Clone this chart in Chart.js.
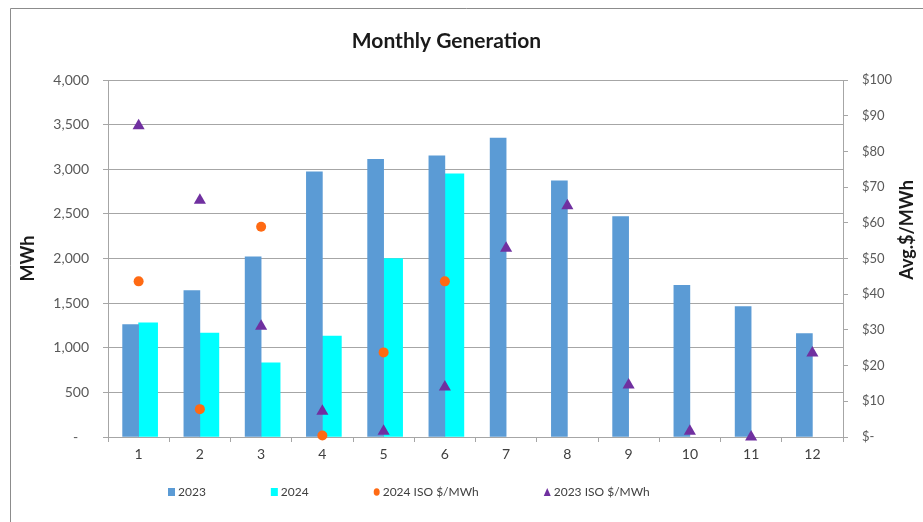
<!DOCTYPE html>
<html>
<head>
<meta charset="utf-8">
<title>Monthly Generation</title>
<script src="https://cdn.jsdelivr.net/npm/chart.js@4.4.1/dist/chart.umd.min.js"></script>
<style>
  html, body { margin: 0; padding: 0; background: #fff; }
  #wrap { position: relative; width: 923px; height: 522px; }
</style>
</head>
<body>
<div id="wrap"><canvas id="genChart"></canvas></div>
<script>
// months on the x axis
const months = ['1', '2', '3', '4', '5', '6', '7', '8', '9', '10', '11', '12'];

// MWh generated (left axis)
const gen2023 = [1260, 1640, 2020, 2970, 3110, 3150, 3350, 2870, 2470, 1700, 1460, 1160];
const gen2024 = [1280, 1165, 830, 1130, 2000, 2950, null, null, null, null, null, null];

// average ISO price, $/MWh (right axis)
const iso2024 = [43.6, 7.8, 58.9, 0.4, 23.7, 43.6, null, null, null, null, null, null];
const iso2023 = [87.2, 66.3, 31.0, 7.2, 1.6, 14.0, 52.9, 64.8, 14.6, 1.6, 0, 23.5];

const leftTicks = [0, 500, 1000, 1500, 2000, 2500, 3000, 3500, 4000];
const rightTicks = [0, 10, 20, 30, 40, 50, 60, 70, 80, 90, 100];

Chart.defaults.font.family = 'Lato, "Open Sans", sans-serif';
Chart.defaults.color = '#595959';

const gridGray = '#a6a6a6';

// outer frame of the chart area (cut off at right/bottom like the screenshot)
const framePlugin = {
    id: 'frame',
    beforeDraw(chart) {
        const ctx = chart.ctx;
        ctx.save();
        ctx.strokeStyle = '#8c8c8c';
        ctx.lineWidth = 1;
        ctx.beginPath();
        ctx.moveTo(10.5, chart.height);
        ctx.lineTo(10.5, 8.5);
        ctx.lineTo(chart.width, 8.5);
        ctx.stroke();
        ctx.restore();
    }
};

// right axis title reads bottom-to-top like the left one
const rightTitlePlugin = {
    id: 'rightTitle',
    afterDraw(chart) {
        const ctx = chart.ctx;
        const area = chart.chartArea;
        ctx.save();
        ctx.translate(area.right + 64, area.top + 150);
        ctx.rotate(-Math.PI / 2);
        ctx.font = 'bold 18px Lato, "Open Sans", sans-serif';
        ctx.fillStyle = '#1a1a1a';
        ctx.textAlign = 'center';
        ctx.textBaseline = 'middle';
        ctx.fillText('Avg.$/MWh', 0, 0);
        ctx.restore();
    }
};

// legend in one row with wide gaps, drawn from the datasets
const legendPlugin = {
    id: 'rowLegend',
    afterDraw(chart) {
        const ctx = chart.ctx;
        const y = 492;
        const gap = 65;
        let x = chart.chartArea.left + 60;
        ctx.save();
        ctx.font = '12px Lato, "Open Sans", sans-serif';
        ctx.textBaseline = 'middle';
        ctx.textAlign = 'left';
        chart.data.datasets.forEach(ds => {
            ctx.fillStyle = ds.backgroundColor;
            if (ds.legendShape === 'rect') {
                ctx.fillRect(x, y - 4, 7, 8);
                x += 7;
            } else if (ds.legendShape === 'circle') {
                ctx.beginPath();
                ctx.ellipse(x + 3, y, 3, 3.8, 0, 0, Math.PI * 2);
                ctx.fill();
                x += 6;
            } else {
                ctx.beginPath();
                ctx.moveTo(x + 3.5, y - 4);
                ctx.lineTo(x + 7, y + 4);
                ctx.lineTo(x, y + 4);
                ctx.closePath();
                ctx.fill();
                x += 7;
            }
            x += 3;
            ctx.fillStyle = '#404040';
            ctx.fillText(ds.label, x, y);
            x += ctx.measureText(ds.label).width + gap;
        });
        ctx.restore();
    }
};

const ctx = document.getElementById('genChart').getContext('2d');
const chart = new Chart(ctx, {
    data: {
        labels: months,
        datasets: [
            {
                type: 'bar',
                label: '2023',
                data: gen2023,
                backgroundColor: '#5b9bd5',
                barThickness: 16,
                yAxisID: 'y',
                legendShape: 'rect',
                order: 2
            },
            {
                type: 'bar',
                label: '2024',
                data: gen2024,
                backgroundColor: '#00ffff',
                barThickness: 19,
                yAxisID: 'y',
                legendShape: 'rect',
                order: 2
            },
            {
                type: 'line',
                label: '2024 ISO $/MWh',
                data: iso2024,
                showLine: false,
                pointStyle: 'circle',
                pointRadius: 5,
                pointBorderWidth: 0,
                backgroundColor: '#ff6a13',
                pointBackgroundColor: '#ff6a13',
                yAxisID: 'y2',
                clip: false,
                legendShape: 'circle',
                order: 1
            },
            {
                type: 'line',
                label: '2023 ISO $/MWh',
                data: iso2023,
                showLine: false,
                pointStyle: 'triangle',
                pointRadius: 7,
                pointBorderWidth: 0,
                backgroundColor: '#7030a0',
                pointBackgroundColor: '#7030a0',
                yAxisID: 'y2',
                clip: false,
                legendShape: 'triangle',
                order: 0
            }
        ]
    },
    options: {
        responsive: true,
        maintainAspectRatio: false,
        animation: false,
        layout: {
            padding: { left: 0, right: 30, top: 0, bottom: 0 }
        },
        scales: {
            x: {
                type: 'category',
                grid: {
                    offset: true,
                    drawOnChartArea: false,
                    drawTicks: true,
                    tickLength: 5,
                    color: gridGray
                },
                border: { color: gridGray },
                ticks: {
                    padding: 4,
                    color: '#404040',
                    font: { size: 14 }
                },
                afterFit(scale) { scale.height = 85; }
            },
            y: {
                position: 'left',
                min: 0,
                max: 4000,
                afterBuildTicks(scale) {
                    scale.ticks = leftTicks.map(v => ({ value: v }));
                },
                grid: {
                    color: gridGray,
                    tickLength: 5
                },
                border: { color: gridGray },
                ticks: {
                    padding: 14,
                    color: '#595959',
                    font: { size: 14 },
                    callback: v => v === 0 ? '-   ' : v.toLocaleString('en-US')
                },
                title: {
                    display: true,
                    text: 'MWh',
                    color: '#1a1a1a',
                    font: { size: 18, weight: 'bold' },
                    padding: { top: 17, bottom: 0 }
                },
                afterFit(scale) { scale.width = 108; }
            },
            y2: {
                position: 'right',
                min: 0,
                max: 100,
                afterBuildTicks(scale) {
                    scale.ticks = rightTicks.map(v => ({ value: v }));
                },
                grid: {
                    drawOnChartArea: false,
                    color: gridGray,
                    tickLength: 5
                },
                border: { color: gridGray },
                ticks: {
                    padding: 14,
                    color: '#595959',
                    font: { size: 13 },
                    callback: v => v === 0 ? '$-' : '$' + v
                },
                afterFit(scale) { scale.width = 50; }
            }
        },
        plugins: {
            legend: { display: false },
            tooltip: { enabled: false },
            title: {
                display: true,
                text: 'Monthly Generation',
                color: '#1a1a1a',
                font: { size: 21, weight: 'bold' },
                padding: { top: 28.4, bottom: 26.4 }
            }
        }
    },
    plugins: [framePlugin, rightTitlePlugin, legendPlugin]
});
</script>
</body>
</html>
